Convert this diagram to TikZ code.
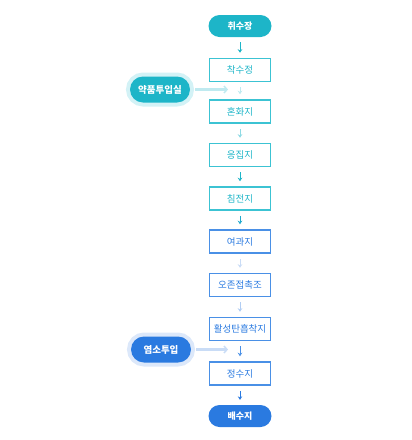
\documentclass[tikz,border=0pt]{standalone}
\usepackage{fontspec}
\setmainfont{Noto Sans CJK KR}
\usetikzlibrary{arrows.meta}
\definecolor{cy}{HTML}{1DB5C8}
\definecolor{cyb}{HTML}{3CC3D3}
\definecolor{cyp}{HTML}{D3F2F6}
\definecolor{cya}{HTML}{BFEAF0}
\definecolor{bl}{HTML}{2A7AE0}
\definecolor{blb}{HTML}{4A90E6}
\definecolor{blp}{HTML}{DCE8FA}
\definecolor{bla}{HTML}{C9DCF6}
\tikzset{
  pill/.style={rounded corners=11pt, minimum width=63pt, minimum height=22pt, inner sep=0pt, text=white, font=\bfseries\fontsize{9}{10}\selectfont},
  glowpill/.style={rounded corners=13pt, minimum width=60pt, minimum height=26pt, inner sep=0pt, text=white, font=\bfseries\fontsize{9.5}{10}\selectfont},
  stepbox/.style={draw, line width=1.5pt, minimum width=61pt, minimum height=23pt, inner sep=0pt, font=\fontsize{9.5}{10}\selectfont},
  cbox/.style={stepbox, draw=cyb, text=cy},
  bbox/.style={stepbox, draw=blb, text=bl},
  flow/.style={line width=0.8pt, -{Stealth[length=3.5pt,width=4.5pt]}, shorten >=5pt, shorten <=5pt},
  feed/.style={line width=3pt, -{Straight Barb[length=3pt,width=7pt,line width=1.5pt]}}
}
\begin{document}
\begin{tikzpicture}[x=1pt,y=-1pt]
\useasboundingbox (0,0) rectangle (412,440);
\node[pill, fill=cy] (n0) at (240,26) {취수장};
\node[cbox] (n1) at (240,70) {착수정};
\node[cbox] (n2) at (240,111.5) {혼화지};
\node[cbox] (n3) at (240,155) {응집지};
\node[cbox] (n4) at (240,198.5) {침전지};
\node[bbox] (n5) at (240,241.5) {여과지};
\node[bbox] (n6) at (240,285) {오존접촉조};
\node[bbox] (n7) at (240,329) {활성탄흡착지};
\node[bbox] (n8) at (240,373.5) {정수지};
\node[pill, fill=bl] (n9) at (240,416) {배수지};
\draw[flow, cy] (n0) -- (n1);
\draw[flow, cya] (n1) -- (n2);
\draw[flow, cya!70!cy] (n2) -- (n3);
\draw[flow, cy] (n3) -- (n4);
\draw[flow, cy!80!bl] (n4) -- (n5);
\draw[flow, bla] (n5) -- (n6);
\draw[flow, bla!85!bl] (n6) -- (n7);
\draw[flow, blb] (n7) -- (n8);
\draw[flow, bl] (n8) -- (n9);
\node[glowpill, fill=cy, preaction={draw=cyp, line width=8pt}] (yak) at (160,89.5) {약품투입실};
\node[glowpill, fill=bl, preaction={draw=blp, line width=8pt}] (yeom) at (161,349.5) {염소투입};
\coordinate (ya) at (228,89.5);
\coordinate (yb) at (228,349.5);
\draw[feed, cya] ([xshift=5pt]yak.east) -- (ya);
\draw[feed, bla] ([xshift=5pt]yeom.east) -- (yb);
\end{tikzpicture}
\end{document}
